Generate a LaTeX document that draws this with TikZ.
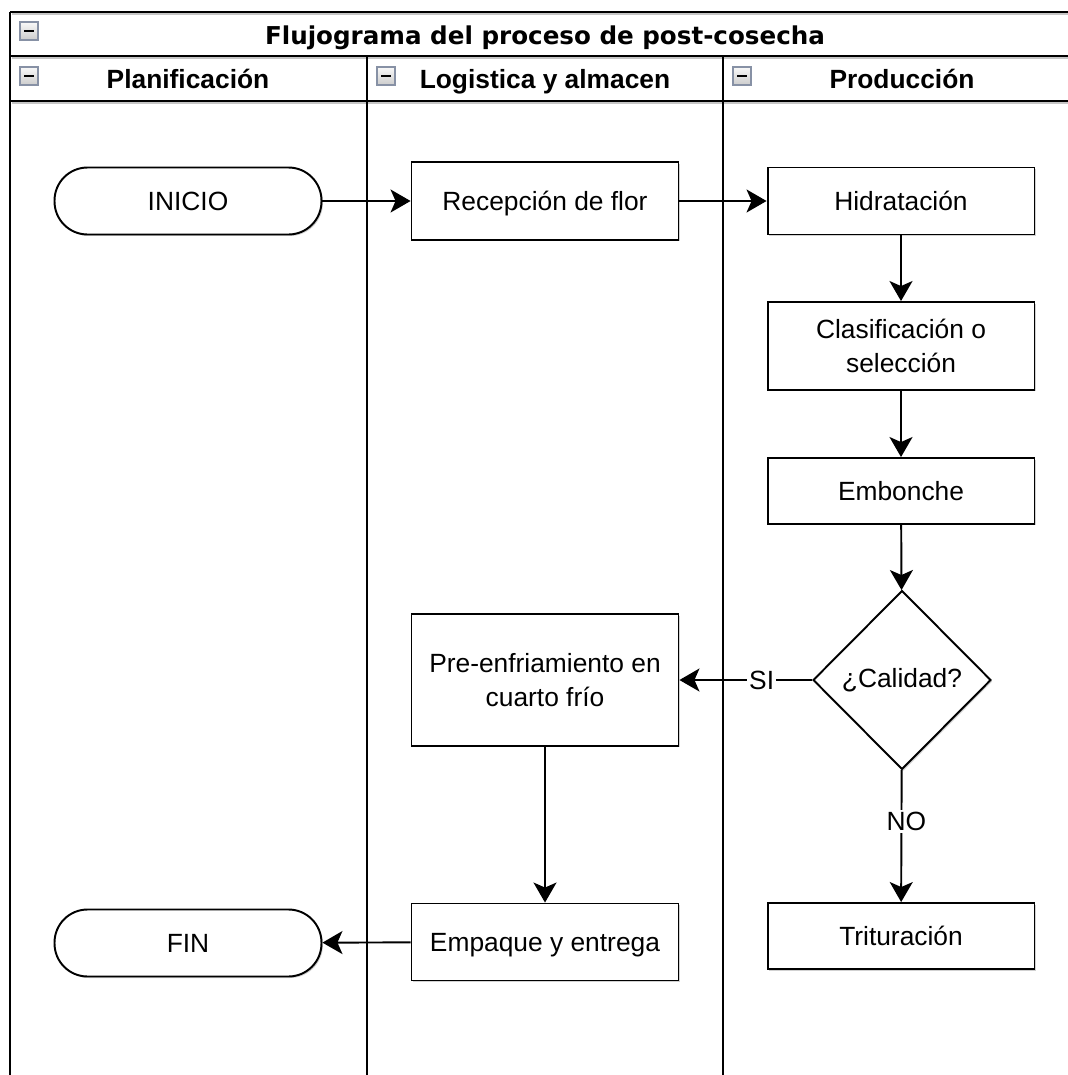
\documentclass[tikz,border=0pt]{standalone}
\usepackage{fontspec}
\setmainfont{Liberation Sans}
\newfontfamily\titlefont{DejaVu Sans}
\usetikzlibrary{shapes.geometric,arrows.meta,shadows}

\tikzset{
  lanerule/.style={line width=1.2pt, draw=black},
  boxshadow/.style={drop shadow={shadow xshift=0.03cm, shadow yshift=-0.03cm, opacity=0.18, fill=black}},
  procbox/.style={draw=black, line width=1.1pt, fill=white, minimum width=5.34cm,
    align=center, inner sep=2pt, font=\fontsize{15}{19.5}\selectfont, boxshadow},
  oneline/.style={text height=10.7pt, text depth=0pt},
  terminal/.style={procbox, oneline, rounded corners=0.66cm, minimum height=1.34cm},
  decision/.style={diamond, aspect=1, draw=black, line width=1.1pt, fill=white, inner sep=0pt,
    minimum width=3.56cm, minimum height=3.58cm, font=\fontsize{15}{19.5}\selectfont, boxshadow},
  flow/.style={line width=1.1pt, -{Stealth[length=0.4cm, width=0.46cm, inset=0.1cm]}},
  edgelabel/.style={fill=white, inner sep=1pt, oneline, font=\fontsize{15}{18}\selectfont},
  headtext/.style={anchor=base, font=\fontsize{15}{18}\selectfont\bfseries},
  collapser/.style={draw={rgb,255:red,135;green,145;blue,165}, line width=0.6pt,
    top color=gray!5, bottom color=gray!40, minimum size=0.36cm, inner sep=0pt},
}

\newcommand{\minusicon}[2]{%
  \node[collapser] (#1) at #2 {};
  \draw[line width=1.2pt] ([xshift=-0.1cm]#1.center) -- ([xshift=0.1cm]#1.center);
}

\begin{document}
\begin{tikzpicture}[x=0.02cm, y=-0.02cm]
  \useasboundingbox (0,0) rectangle (1068,1075);
  \clip (0,0) rectangle (1068,1075);
  \fill[white] (0,0) rectangle (1068,1075);

  % swimlane pool frame and rules (soft shadow first, then lines)
  \begin{scope}[gray!45, line width=1.2pt]
    \draw (11.5,13.5) -- (1090,13.5);
    \draw (11.5,57.5) -- (1090,57.5);
    \draw (11.5,102.5) -- (1090,102.5);
  \end{scope}
  \draw[lanerule] (10,12) -- (1090,12);
  \draw[lanerule] (10,56) -- (1090,56);
  \draw[lanerule] (10,101) -- (1090,101);
  \draw[lanerule] (10,12) -- (10,1090);
  \draw[lanerule] (367,56) -- (367,1090);
  \draw[lanerule] (723,56) -- (723,1090);

  % header texts and collapse icons
  \node[headtext, font=\titlefont\fontsize{14}{17}\selectfont\bfseries] (title) at (545,44) {Flujograma del proceso de post-cosecha};
  \node[headtext] (lane1) at (188,88) {Planificación};
  \node[headtext] (lane2) at (545,88) {Logistica y almacen};
  \node[headtext] (lane3) at (902,88) {Producción};
  \minusicon{icontitle}{(29,31)}
  \minusicon{iconA}{(29,76)}
  \minusicon{iconB}{(386,76)}
  \minusicon{iconC}{(742,76)}

  % process steps
  \node[terminal] (inicio) at (188,201) {INICIO};
  \node[procbox, oneline, minimum height=1.56cm] (recep) at (545,201) {Recepción de flor};
  \node[procbox, oneline, minimum height=1.34cm] (hidra) at (901,201) {Hidratación};
  \node[procbox, minimum height=1.76cm] (clasif) at (901,346) {Clasificación o\\selección};
  \node[procbox, oneline, minimum height=1.32cm] (embon) at (901,491) {Embonche};
  \node[decision] (calidad) at (902,680) {¿Calidad?};
  \node[procbox, minimum height=2.64cm] (prefrio) at (545,680) {Pre-enfriamiento en\\cuarto frío};
  \node[procbox, oneline, minimum height=1.54cm] (empaque) at (545,942) {Empaque y entrega};
  \node[terminal] (fin) at (188,943) {FIN};
  \node[procbox, oneline, minimum height=1.32cm] (tritur) at (901,936) {Trituración};

  % connectors
  \draw[flow] (inicio) -- (recep);
  \draw[flow] (recep) -- (hidra);
  \draw[flow] (hidra) -- (clasif);
  \draw[flow] (clasif) -- (embon);
  \draw[flow] (embon) -- (calidad);
  \draw[flow] (calidad) -- node[edgelabel, pos=0.38] (lblsi) {SI} (prefrio);
  \draw[flow] (calidad) -- node[edgelabel, pos=0.39, xshift=0.1cm] (lblno) {NO} (tritur);
  \draw[flow] (prefrio) -- (empaque);
  \draw[flow] (empaque) -- (fin);
\end{tikzpicture}
\end{document}
